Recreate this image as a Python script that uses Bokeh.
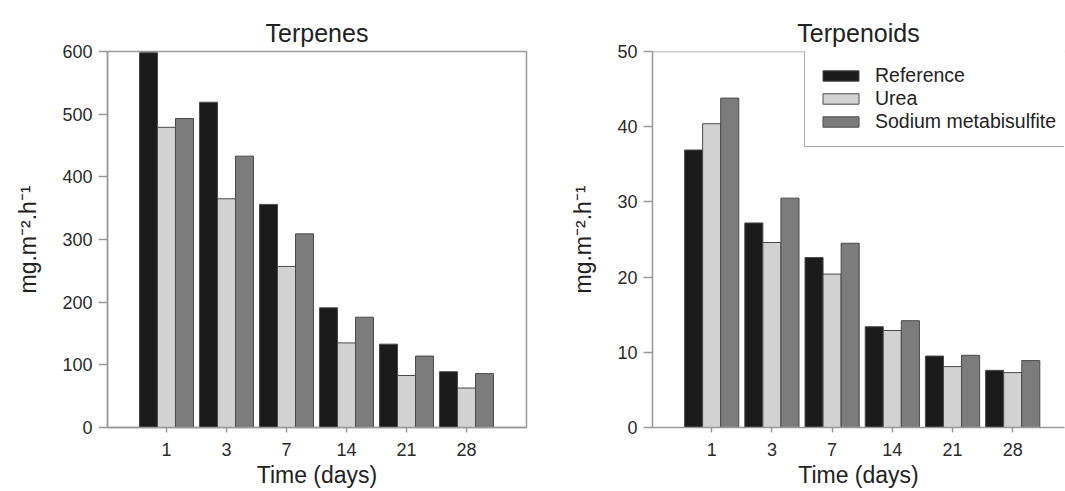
import numpy as np
from bokeh.plotting import figure
from bokeh.models import ColumnDataSource, Range1d, FixedTicker, Legend, LegendItem, Span
from bokeh.layouts import row
from bokeh.transform import dodge
from bokeh.embed import file_html
from bokeh.resources import INLINE

days = ["1", "3", "7", "14", "21", "28"]
series = ["Reference", "Urea", "Sodium metabisulfite"]
terpenes_reference = [598, 519, 356, 191, 133, 89]
terpenes_urea = [479, 365, 257, 135, 83, 63]
terpenes_sodium = [493, 433, 309, 176, 114, 86]
terpenoids_reference = [36.9, 27.2, 22.6, 13.4, 9.5, 7.6]
terpenoids_urea = [40.4, 24.6, 20.4, 12.9, 8.1, 7.3]
terpenoids_sodium = [43.8, 30.5, 24.5, 14.2, 9.6, 8.9]

colors = ["#1b1b1b", "#d2d2d2", "#7c7c7c"]
FONT = "Liberation Sans"
YLABEL = "mg.m\u207b\u00b2.h\u207b\u00b9"


def make(title, vals, ymax, ystep, x_end, width, bl, br, legend=False):
    src = ColumnDataSource(dict(x=list(range(len(days))), a=vals[0], b=vals[1], c=vals[2]))
    p = figure(width=width, height=491, output_backend="svg", toolbar_location=None,
               x_range=Range1d(-0.983, x_end), y_range=Range1d(0, ymax),
               min_border_left=bl, min_border_right=br, min_border_top=51, min_border_bottom=64)
    rs = []
    for key, off, col in zip(["a", "b", "c"], [-0.3, 0.0, 0.3], colors):
        r = p.vbar(x=dodge("x", off), top=key, width=0.3, bottom=0, source=src,
                   fill_color=col, line_color="#4a4a4a", line_width=1)
        rs.append(r)
    p.title.text = title
    p.title.align = "center"
    p.title.text_font = FONT
    p.title.text_font_size = "25px"
    p.title.text_font_style = "normal"
    p.title.text_color = "#222222"
    p.xgrid.visible = False
    p.ygrid.visible = False
    p.background_fill_color = "white"
    p.border_fill_color = "white"
    if legend:
        p.outline_line_color = None
        p.add_layout(Span(location=ymax, dimension="width", line_color="#999999", line_width=1.5))
    else:
        p.outline_line_color = "#999999"
        p.outline_line_width = 1.5

    xa = p.xaxis[0]
    xa.ticker = FixedTicker(ticks=list(range(len(days))))
    xa.major_label_overrides = {i: d for i, d in enumerate(days)}
    xa.axis_label = "Time (days)"
    ya = p.yaxis[0]
    ya.ticker = FixedTicker(ticks=list(np.arange(0, ymax + 0.1, ystep)))
    ya.axis_label = YLABEL
    for ax in (xa, ya):
        ax.axis_line_color = "#999999"
        ax.axis_line_width = 1.5
        ax.major_tick_line_color = "#999999"
        ax.major_tick_line_width = 1.5
        ax.minor_tick_line_color = None
        ax.major_tick_in = 0
        ax.major_label_text_font = FONT
        ax.major_label_text_font_size = "18px"
        ax.major_label_text_color = "#2a2a2a"
        ax.axis_label_text_font = FONT
        ax.axis_label_text_font_size = "23px"
        ax.axis_label_text_font_style = "normal"
        ax.axis_label_text_color = "#222222"
    xa.major_tick_out = 5
    xa.major_label_standoff = 10
    xa.axis_label_standoff = 3
    ya.major_tick_out = 9
    ya.major_label_standoff = 6
    ya.axis_label_standoff = 18

    if legend:
        items = [LegendItem(label=s, renderers=[r]) for s, r in zip(series, rs)]
        lg = Legend(items=items, location=(152, 280))
        lg.label_text_font = FONT
        lg.label_text_font_size = "19.5px"
        lg.label_text_color = "#222222"
        lg.glyph_width = 45
        lg.glyph_height = 13
        lg.label_standoff = 12
        lg.padding = 13
        lg.spacing = 0
        lg.label_height = 23
        lg.border_line_color = "#555555"
        lg.border_line_width = 1.5
        lg.background_fill_alpha = 1.0
        p.add_layout(lg, "center")
    return p


p1 = make("Terpenes", [terpenes_reference, terpenes_urea, terpenes_sodium],
          600, 100, 6.0, 546, 107, 20)
p2 = make("Terpenoids", [terpenoids_reference, terpenoids_urea, terpenoids_sodium],
          50, 10, 5.86, 519, 106, 1, legend=True)

layout = row(p1, p2)
open("out.html", "w").write(file_html(layout, INLINE))
